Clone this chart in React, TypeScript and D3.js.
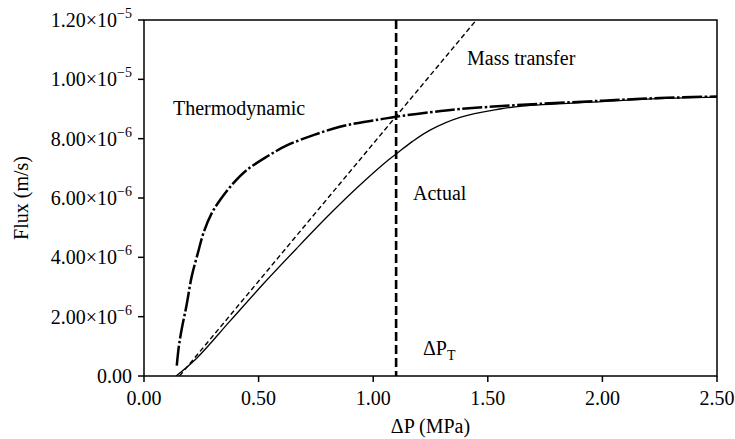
import React from "react";
import * as d3 from "d3";

const W = 735;
const H = 439;
const M = { left: 144, right: 18, top: 20, bottom: 63 };

const xTicks = [0, 0.5, 1.0, 1.5, 2.0, 2.5];
const yTicks = [0, 2e-6, 4e-6, 6e-6, 8e-6, 1e-5, 1.2e-5];

// Thermodynamic curve (x MPa, y in 1e-6 m/s)
const thermoX = [0.143, 0.152, 0.165, 0.186, 0.208, 0.237, 0.259, 0.295, 0.332, 0.39, 0.448, 0.535, 0.623, 0.739, 0.855, 0.942, 1.03, 1.1, 1.248, 1.379, 1.626, 2.0, 2.25, 2.5];
const thermoY = [0.35, 1.0, 1.6, 2.4, 3.35, 4.2, 4.81, 5.48, 5.93, 6.5, 6.94, 7.39, 7.77, 8.12, 8.4, 8.54, 8.65, 8.74, 8.89, 9.0, 9.13, 9.28, 9.37, 9.42];

// Actual curve
const actualX = [0.14, 0.23, 0.375, 0.52, 0.666, 0.81, 0.94, 1.066, 1.1, 1.17, 1.248, 1.379, 1.553, 1.65, 2.0, 2.25, 2.5];
const actualY = [0, 0.6, 1.85, 3.1, 4.3, 5.45, 6.42, 7.28, 7.48, 7.9, 8.29, 8.72, 9.0, 9.1, 9.25, 9.35, 9.4];

// Mass transfer line
const massX = [0.155, 1.45];
const massY = [0, 12];

const transitionX = 1.1;

export default function App() {
  const x = d3.scaleLinear().domain([0, 2.5]).range([M.left, W - M.right]);
  const y = d3.scaleLinear().domain([0, 1.2e-5]).range([H - M.bottom, M.top]);

  const line = d3
    .line<[number, number]>()
    .x((d) => x(d[0]))
    .y((d) => y(d[1] * 1e-6))
    .curve(d3.curveCatmullRom.alpha(0.5));
  const straight = d3
    .line<[number, number]>()
    .x((d) => x(d[0]))
    .y((d) => y(d[1] * 1e-6));

  const thermo = thermoX.map((v, i) => [v, thermoY[i]] as [number, number]);
  const actual = actualX.map((v, i) => [v, actualY[i]] as [number, number]);
  const mass = massX.map((v, i) => [v, massY[i]] as [number, number]);

  const font = "'Liberation Serif', 'Times New Roman', Times, serif";
  const fs = 20;

  const yLabel = (v: number) => {
    if (v === 0) return { m: "0.00", e: null as string | null };
    const e = Math.floor(Math.log10(v) + 1e-9);
    const m = v / Math.pow(10, e);
    return { m: m.toFixed(2) + "×10", e: "−" + String(-e) };
  };

  const x0 = x(0), x1 = x(2.5), y0 = y(0), y1 = y(1.2e-5);

  return (
    <svg width={W} height={H} style={{ position: "absolute", left: 0, top: 0, background: "#fff" }} fontFamily={font}>
      <defs>
        <clipPath id="plot">
          <rect x={x0} y={y1} width={x1 - x0} height={y0 - y1} />
        </clipPath>
      </defs>
      <g clipPath="url(#plot)" fill="none" stroke="#000">
        <path d={straight(mass) || ""} strokeWidth={1.4} strokeDasharray="5,3" />
        <path d={line(actual) || ""} strokeWidth={1.3} />
        <path d={line(thermo) || ""} strokeWidth={2.5} strokeDasharray="20,2.5,2.5,2.5" />
        <line x1={x(transitionX)} x2={x(transitionX)} y1={y1} y2={y0} strokeWidth={2.6} strokeDasharray="9,4" />
      </g>
      {/* frame */}
      <rect x={x0} y={y1} width={x1 - x0} height={y0 - y1} fill="none" stroke="#000" strokeWidth={1.5} />
      {/* y ticks */}
      {yTicks.map((t) => {
        const l = yLabel(t);
        return (
          <g key={t}>
            <line x1={x0 - 6} x2={x0} y1={y(t)} y2={y(t)} stroke="#000" strokeWidth={1.5} />
            <text x={x0 - 12} y={y(t) + 7} textAnchor="end" fontSize={fs} fill="#000">
              <tspan>{l.m}</tspan>
              {l.e && (
                <tspan dy={-9} fontSize={14}>
                  {l.e}
                </tspan>
              )}
            </text>
          </g>
        );
      })}
      {/* x ticks */}
      {xTicks.map((t) => (
        <g key={t}>
          <line x1={x(t)} x2={x(t)} y1={y0} y2={y0 + 6} stroke="#000" strokeWidth={1.5} />
          <text x={x(t)} y={y0 + 29} textAnchor="middle" fontSize={fs} fill="#000">
            {t.toFixed(2)}
          </text>
        </g>
      ))}
      <text x={(x0 + x1) / 2} y={433} textAnchor="middle" fontSize={fs}>ΔP (MPa)</text>
      <text transform={`translate(28,${(y0 + y1) / 2}) rotate(-90)`} textAnchor="middle" fontSize={fs}>Flux (m/s)</text>
      <text x={173} y={115} fontSize={fs}>Thermodynamic</text>
      <text x={467} y={65} fontSize={fs}>Mass transfer</text>
      <text x={413} y={200} fontSize={fs}>Actual</text>
      <text x={423} y={355} fontSize={fs}>
        <tspan>ΔP</tspan>
        <tspan dy={5} fontSize={14}>T</tspan>
      </text>
    </svg>
  );
}
